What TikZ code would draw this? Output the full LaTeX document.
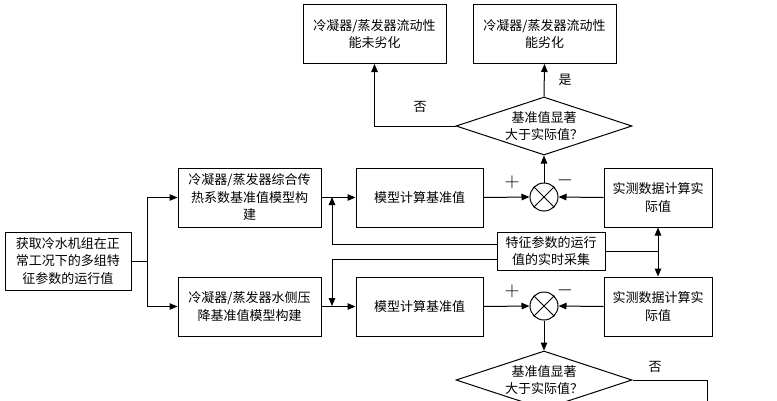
\documentclass[tikz,border=0pt]{standalone}
\usepackage{fontspec}
\newfontfamily\cjk{Noto Sans CJK SC}
\usetikzlibrary{arrows.meta,shapes.geometric}

\begin{document}
\begin{tikzpicture}[x=1pt,y=-1pt,line width=1pt,>={Triangle[length=8pt,width=6.5pt]},
	every node/.style={font=\cjk\fontsize{13}{17.5}\selectfont},
	box/.style={draw,align=center,inner sep=2pt,minimum height=59pt},
	judge/.style={draw,diamond,aspect=3,inner sep=0pt,align=center,minimum width=176pt,minimum height=58pt},
	summer/.style={draw,circle,inner sep=0pt,minimum size=28pt},
	sign/.style={font=\fontsize{22}{22}\selectfont}]
				\clip (0,0) rectangle (777,400);
				% results on top
				\node[box,minimum width=143pt] (ok) at (374.5,34) {冷凝器/蒸发器流动性\\能未劣化};
				\node[box,minimum width=143pt] (bad) at (544.5,34) {冷凝器/蒸发器流动性\\能劣化};
				\node[judge] (d1) at (544,126) {基准值显著\\大于实际值？};
				% input
				\node[box,minimum width=126pt,minimum height=58pt] (src) at (68,261) {获取冷水机组在正\\常工况下的多组特\\征参数的运行值};
				% upper row
				\node[box,minimum width=143pt] (kmod) at (249.5,197.5) {冷凝器/蒸发器综合传\\热系数基准值模型构\\建};
				\node[box,minimum width=127pt] (kref) at (419.5,197.5) {模型计算基准值};
				\node[summer] (s1) at (544,197) {};
				\node[box,minimum width=108pt] (kact) at (658,197.5) {实测数据计算实\\际值};
				% real time data
				\node[box,minimum width=108pt,minimum height=38pt] (rt) at (551,251) {特征参数的运行\\值的实时采集};
				% lower row
				\node[box,minimum width=143pt] (pmod) at (249.5,306.5) {冷凝器/蒸发器水侧压\\降基准值模型构建};
				\node[box,minimum width=127pt] (pref) at (419.5,306.5) {模型计算基准值};
				\node[summer] (s2) at (544,306) {};
				\node[box,minimum width=108pt] (pact) at (658,306.5) {实测数据计算实\\际值};
				\node[judge] (d2) at (544,380) {基准值显著\\大于实际值？};
				\coordinate (cup) at (332,197);
				\coordinate (cdn) at (332,306);
				\coordinate (out) at (707,420);
				% crosses in the summing points
				\draw (s1.north west) -- (s1.south east) (s1.north east) -- (s1.south west);
				\draw (s2.north west) -- (s2.south east) (s2.north east) -- (s2.south west);
				% connectors
				\draw[->] (src.east) -- ++(16,0) |- (kmod.west);
				\draw[->] (src.east) -- ++(16,0) |- (pmod.west);
				\draw[->] (kmod.east) -- (kref.west);
				\draw[->] (pmod.east) -- (pref.west);
				\draw[->] (kref.east) -- (s1.west);
				\draw[->] (pref.east) -- (s2.west);
				\draw[->] (kact.west) -- (s1.east);
				\draw[->] (pact.west) -- (s2.east);
				\draw[->] ([yshift=7pt]rt.west) -| (cup);
				\draw[->] ([yshift=-8pt]rt.west) -| (cdn);
				\draw (rt.east) -- (kact.south |- rt.east);
				\draw[<->] (kact.south) -- (pact.north);
				\draw[->] (s1.north) -- (d1.south);
				\draw[->] (s2.south) -- (d2.north);
				\draw[->] (d1.north) -- (bad.south);
				\draw[->] (d1.west) -| (ok.south);
				\draw (d2.east) -| (out);
				% labels
				\draw (565,80) node {是};
				\draw (420,107) node {否};
				\draw (655,367) node {否};
				\draw (512,182) node[sign] {$+$};
				\draw (565,180) node[sign] {$-$};
				\draw (512,291) node[sign] {$+$};
				\draw (565,290) node[sign] {$-$};
\end{tikzpicture}
\end{document}
